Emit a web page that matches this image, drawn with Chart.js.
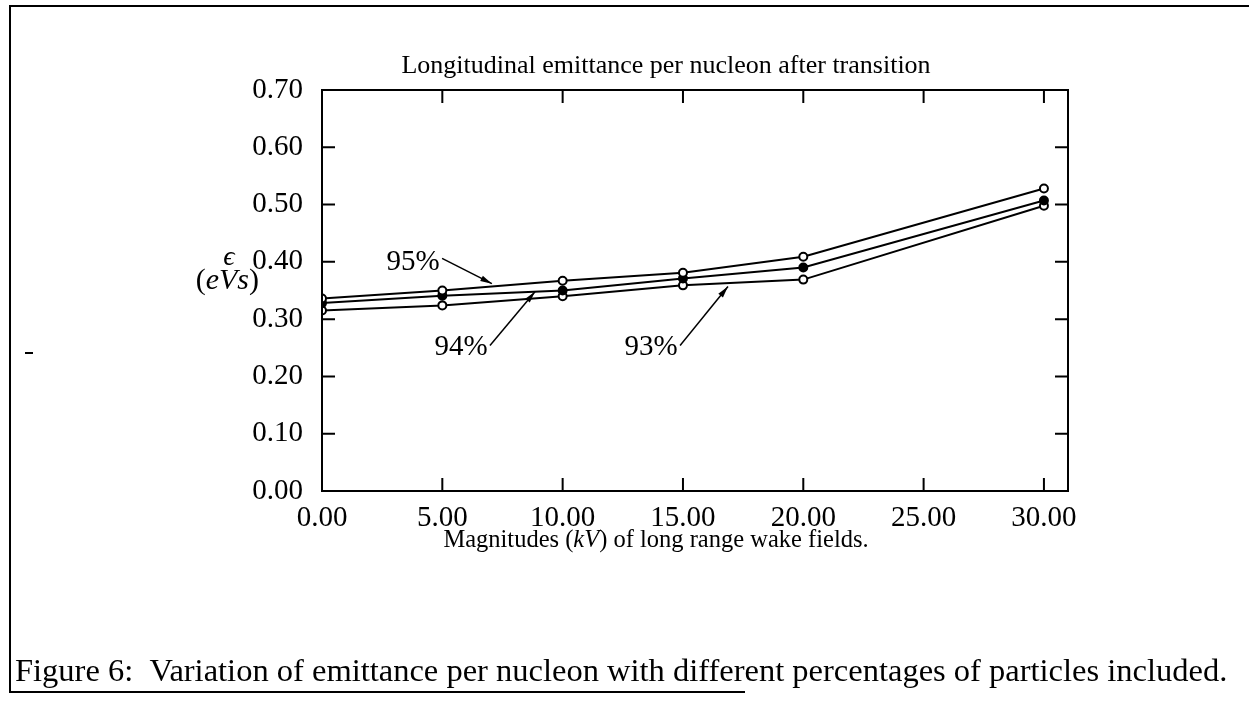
<!DOCTYPE html>
<html>
<head>
<meta charset="utf-8">
<script src="https://cdn.jsdelivr.net/npm/chart.js@4.4.1/dist/chart.umd.min.js"></script>
<style>
  body { margin: 0; background: #fff; }
  #wrap { width: 1249px; height: 702px; }
</style>
</head>
<body>
<div id="wrap"><canvas id="emitChart" width="1249" height="702"></canvas></div>
<script>
// wake field magnitude (kV)
var kv = [0, 5, 10, 15, 20, 30];
// emittance per nucleon (eVs)
var eps95 = [0.336, 0.350, 0.367, 0.381, 0.409, 0.528];
var eps94 = [0.328, 0.341, 0.350, 0.371, 0.390, 0.507];
var eps93 = [0.315, 0.324, 0.340, 0.359, 0.369, 0.498];
var seriesNames = ['95%', '94%', '93%'];
var xTicks = [0, 5, 10, 15, 20, 25, 30];
var yTicks = [0, 0.1, 0.2, 0.3, 0.4, 0.5, 0.6, 0.7];

// labels with arrows, in data units: label position, arrow start, arrow tip
var notes = [
  { text: '95%', lx: 3.78, ly: 0.399, ax: 4.99, ay: 0.406, tx: 7.06, ty: 0.362 },
  { text: '94%', lx: 5.78, ly: 0.251, ax: 6.98, ay: 0.254, tx: 8.85, ty: 0.348 },
  { text: '93%', lx: 13.67, ly: 0.251, ax: 14.88, ay: 0.254, tx: 16.87, ty: 0.357 }
];

var SERIF = '"Liberation Serif", "Times New Roman", serif';

function pts(ys) {
  return kv.map(function(x, i) { return { x: x, y: ys[i] }; });
}

function drawRich(ctx, parts, x, y, size, align) {
  // parts: [text, italic]
  var total = 0;
  parts.forEach(function(p) {
    ctx.font = (p[1] ? 'italic ' : '') + size + 'px ' + SERIF;
    total += ctx.measureText(p[0]).width;
  });
  var cx = align === 'center' ? x - total / 2 : (align === 'right' ? x - total : x);
  ctx.textAlign = 'left';
  parts.forEach(function(p) {
    ctx.font = (p[1] ? 'italic ' : '') + size + 'px ' + SERIF;
    ctx.fillText(p[0], cx, y);
    cx += ctx.measureText(p[0]).width;
  });
}

var paperPlugin = {
  id: 'paper',
  afterDraw: function(chart) {
    var ctx = chart.ctx;
    var a = chart.chartArea;
    var xs = chart.scales.x, ys = chart.scales.y;
    ctx.save();
    ctx.strokeStyle = '#000';
    ctx.fillStyle = '#000';

    // figure frame
    ctx.lineWidth = 2;
    ctx.beginPath();
    ctx.moveTo(1249, 6); ctx.lineTo(10, 6); ctx.lineTo(10, 692); ctx.lineTo(745, 692);
    ctx.stroke();
    // stray mark at left
    ctx.beginPath();
    ctx.moveTo(25, 353); ctx.lineTo(33, 353);
    ctx.stroke();

    // plot box
    ctx.lineWidth = 2;
    ctx.strokeRect(a.left, a.top, a.right - a.left, a.bottom - a.top);

    // inward tick marks
    var tl = 13;
    ctx.beginPath();
    xTicks.forEach(function(v) {
      if (v === 0) return;
      var px = xs.getPixelForValue(v);
      ctx.moveTo(px, a.bottom); ctx.lineTo(px, a.bottom - tl);
      ctx.moveTo(px, a.top); ctx.lineTo(px, a.top + tl);
    });
    yTicks.forEach(function(v) {
      if (v === 0 || v === 0.7) return;
      var py = ys.getPixelForValue(v);
      ctx.moveTo(a.left, py); ctx.lineTo(a.left + tl, py);
      ctx.moveTo(a.right, py); ctx.lineTo(a.right - tl, py);
    });
    ctx.stroke();

    // title
    ctx.textBaseline = 'alphabetic';
    ctx.textAlign = 'center';
    ctx.font = '26px ' + SERIF;
    ctx.fillText('Longitudinal emittance per nucleon after transition', 666, 73);

    // x axis title
    drawRich(ctx, [['Magnitudes (', false], ['kV', true], [') of long range wake fields.', false]], 656, 547, 24.5, 'center');

    // y axis label
    ctx.font = 'italic 28px ' + SERIF;
    ctx.textAlign = 'center';
    ctx.fillText('\u03f5', 229, 265);
    drawRich(ctx, [['(', false], ['eVs', true], [')', false]], 259, 289, 30, 'right');

    // annotations
    ctx.font = '29px ' + SERIF;
    ctx.lineWidth = 1.5;
    notes.forEach(function(n) {
      var lx = xs.getPixelForValue(n.lx), ly = ys.getPixelForValue(n.ly);
      ctx.textAlign = 'center';
      ctx.textBaseline = 'middle';
      ctx.fillText(n.text, lx, ly);
      var x0 = xs.getPixelForValue(n.ax), y0 = ys.getPixelForValue(n.ay);
      var x1 = xs.getPixelForValue(n.tx), y1 = ys.getPixelForValue(n.ty);
      ctx.beginPath();
      ctx.moveTo(x0, y0); ctx.lineTo(x1, y1);
      ctx.stroke();
      var ang = Math.atan2(y1 - y0, x1 - x0);
      ctx.beginPath();
      ctx.moveTo(x1, y1);
      ctx.lineTo(x1 - 12 * Math.cos(ang - 0.25), y1 - 12 * Math.sin(ang - 0.25));
      ctx.lineTo(x1 - 12 * Math.cos(ang + 0.25), y1 - 12 * Math.sin(ang + 0.25));
      ctx.closePath();
      ctx.fill();
    });

    // caption
    ctx.textBaseline = 'alphabetic';
    ctx.textAlign = 'left';
    ctx.font = '32.5px ' + SERIF;
    ctx.fillText('Figure 6:  Variation of emittance per nucleon with different percentages of particles included.', 15, 681);

    ctx.restore();
  }
};

var ds = function(label, ys, filled) {
  return {
    label: label,
    data: pts(ys),
    borderColor: '#000',
    borderWidth: 2,
    pointRadius: 4,
    pointBorderWidth: 2,
    pointBorderColor: '#000',
    pointBackgroundColor: filled ? '#000' : '#fff',
    fill: false,
    tension: 0
  };
};

new Chart(document.getElementById('emitChart'), {
  type: 'line',
  data: {
    datasets: [
      ds(seriesNames[0], eps95, false),
      ds(seriesNames[1], eps94, true),
      ds(seriesNames[2], eps93, false)
    ]
  },
  options: {
    responsive: false,
    animation: false,
    devicePixelRatio: 1,
    layout: { padding: { left: 0, top: 90, right: 181, bottom: 0 } },
    plugins: { legend: { display: false }, tooltip: { enabled: false }, title: { display: false } },
    scales: {
      x: {
        type: 'linear',
        min: 0,
        max: 31,
        border: { display: false },
        grid: { display: false },
        afterFit: function(s) { s.height = 211; },
        afterBuildTicks: function(s) { s.ticks = xTicks.map(function(v) { return { value: v }; }); },
        ticks: {
          padding: 2,
          color: '#000',
          maxRotation: 0,
          font: { family: SERIF, size: 29 },
          callback: function(v) { return v.toFixed(2); }
        }
      },
      y: {
        min: 0,
        max: 0.7,
        border: { display: false },
        grid: { display: false },
        afterFit: function(s) { s.width = 322; },
        afterBuildTicks: function(s) { s.ticks = yTicks.map(function(v) { return { value: v }; }); },
        ticks: {
          padding: 11,
          color: '#000',
          font: { family: SERIF, size: 29 },
          callback: function(v) { return v.toFixed(2); }
        }
      }
    }
  },
  plugins: [paperPlugin]
});
</script>
</body>
</html>
